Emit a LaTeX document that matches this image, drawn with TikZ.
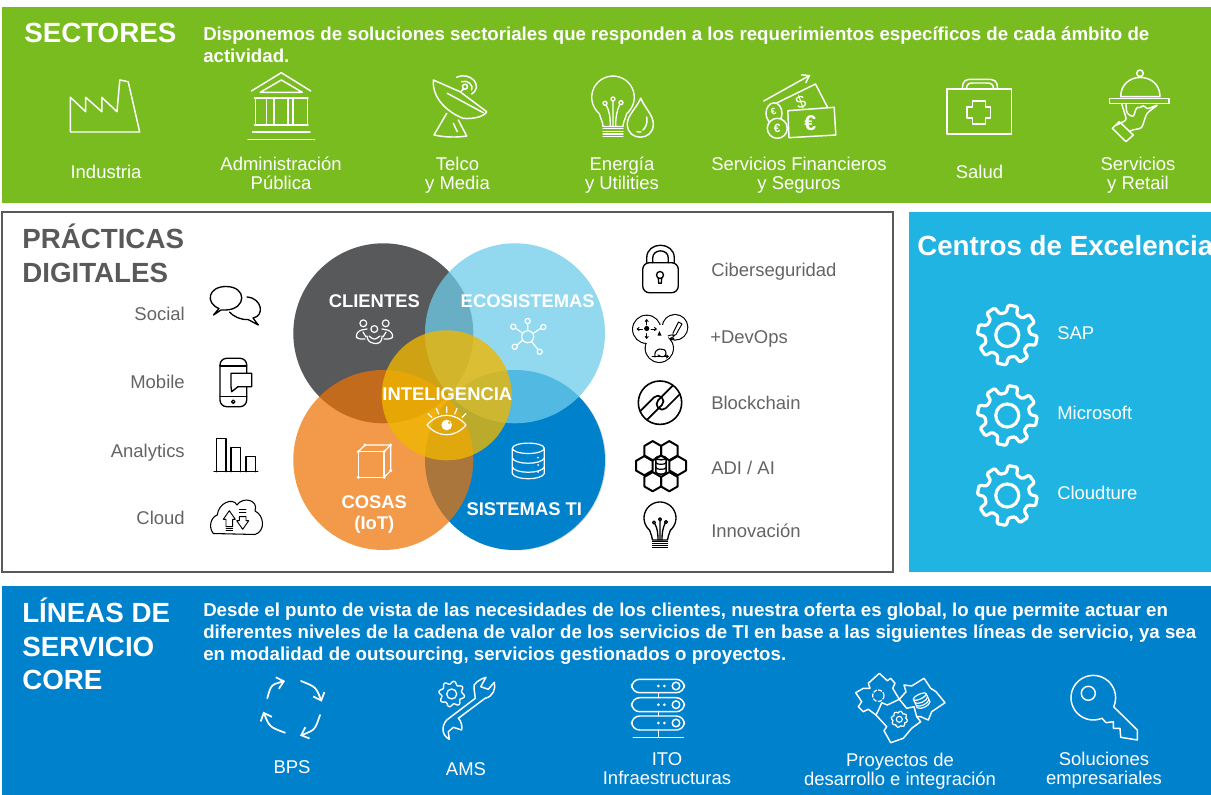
\documentclass[tikz,border=0pt]{standalone}
\usepackage{fontspec}
\setmainfont{Liberation Sans}
\usetikzlibrary{arrows.meta}
\definecolor{verde}{HTML}{78BC1F}
\definecolor{azul}{HTML}{0081CC}
\definecolor{celeste}{HTML}{20B4E3}
\definecolor{gris}{HTML}{58595B}
\definecolor{grisclaro}{HTML}{636466}
\definecolor{naranja}{HTML}{ED7204}
\definecolor{luz}{HTML}{6ECCEB}
\definecolor{oro}{HTML}{F0B700}
\newcommand\cogicon[6]{%
  \begin{scope}[shift={(#1,#2)}]
    \draw[line width=#6,rounded corners=1pt,line join=round] (-3:#4)
      \foreach \a in {0,45,...,315}{ -- (\a+11-14:#4) -- (\a+11-9:#3) -- (\a+11+9:#3) -- (\a+11+14:#4)} -- cycle;
    \draw[line width=#6] (0,0) circle[radius=#5];
  \end{scope}}
\newcommand\bulbicon[3]{%
  \begin{scope}[shift={(#1,#2)},scale=#3]
    \draw plot[smooth,domain=130:410,samples=30] ({16*cos(\x)},{16*sin(\x)}) .. controls (9,17) and (7.5,19) .. (7.5,22) -- (-7.5,22) .. controls (-7.5,19) and (-9,17) .. (-10.3,12.3);
    \foreach \yy in {23.5,25.5,27.5,29.5} \draw (-7.5,\yy) -- (7.5,\yy);
    \draw (-2,22) .. controls (-2,14) and (-3,10) .. (-5,6) (0,22) -- (0,3) (2,22) .. controls (2,14) and (3,10) .. (5,5.5);
    \draw (-6,4.5) circle[radius=1.5] (0,1.3) circle[radius=1.5] (6,4) circle[radius=1.5];
  \end{scope}}
\tikzset{
  lab/.style={inner sep=0pt,text=white,align=center,font=\fontsize{13.85}{14.25}\selectfont,text height=9.9pt,text depth=0pt},
  lablow/.style={inner sep=0pt,text=grisclaro,font=\fontsize{13.85}{14.25}\selectfont,text height=9.9pt,text depth=0pt},
  head/.style={inner sep=0pt,anchor=west,align=left,font=\fontsize{20.8}{25}\bfseries\selectfont,text height=14.9pt,text depth=0pt},
  body/.style={inner sep=0pt,anchor=west,align=left,text=white,font=\fontsize{14}{16.7}\bfseries\selectfont,text height=10pt,text depth=0pt},
  circlab/.style={inner sep=0pt,text=white,align=center,font=\fontsize{13.8}{16}\bfseries\selectfont,text height=9.9pt,text depth=0pt},
  wline/.style={draw=white,line width=1.1pt,line join=round,line cap=round},
  dline/.style={draw=black,line width=1pt,line join=round,line cap=round},
}
\begin{document}
\begin{tikzpicture}[x=0.75pt,y=-0.75pt]
\useasboundingbox (0,0) rectangle (1211,795);
% panels
\fill[verde] (2,7) rectangle (1211,203);
\draw[gris,line width=1.4pt] (2,212) rectangle (893,572);
\fill[celeste] (909,212) rectangle (1211,572);
\fill[azul] (2,586) rectangle (1211,795);
% top text
\node[head,text=white] (sectores) at (24,33) {SECTORES};
\node[body] (sectxt) at (203,56) {Disponemos de soluciones sectoriales que responden a los requerimientos específicos de cada ámbito de\\actividad.};
\node[lab] (s1) at (106,172) {Industria};
\node[lab] (s2) at (281,183) {Administración\\Pública};
\node[lab] (s3) at (457.5,183) {Telco\\y Media};
\node[lab] (s4) at (622,183) {Energía\\y Utilities};
\node[lab] (s5) at (799,183) {Servicios Financieros\\y Seguros};
\node[lab] (s6) at (979.5,172) {Salud};
\node[lab] (s7) at (1138,183) {Servicios\\y Retail};
% sector icons
\begin{scope}[wline]
  % factory
  \draw (70.4,97.3) -- (85.7,111.7) -- (85.7,97.3) -- (101.8,111.7) -- (101.8,97.3) -- (117,111.7) -- (119.8,80) -- (128.2,81.7) -- (139.7,132) -- (70.4,132) -- cycle;
  % government
  \draw (251.4,91) -- (281.3,72.7) -- (310.8,91);
  \draw (260.2,92.3) -- (281.3,80) -- (302.3,92.3) -- cycle;
  \draw (254.5,98) -- (308,98) (254.5,125) -- (308,125);
  \draw (255.6,98) rectangle (266.4,125) (274,98) rectangle (287.8,125) (293.1,98) rectangle (307.3,125);
  \draw (252.6,132) -- (310,132) (248,139.3) -- (314.6,139.3);
  % dish
  \draw (433.3,80) -- (460,91.7) -- (486.7,111.7) .. controls (485,116) and (474,119.5) .. (463,118.3) .. controls (450,113.3) and (432,100) .. (433.3,80) -- cycle;
  \draw (447.3,93.3) -- (483.3,112.7);
  \draw (446.7,113.3) -- (434,135) .. controls (445,137.5) and (458,137.5) .. (466.7,136) -- (458.3,120);
  \draw (453.3,123.3) -- (457.3,131.7);
  \draw (460.7,91.7) -- (463.5,89);
  \draw (465,86.7) circle[radius=2.5];
  \draw (461.7,81.7) .. controls (467,79.5) and (474,85) .. (471.7,90);
  \draw (456.7,77.3) .. controls (470,71) and (484,86) .. (471.7,94);
  % energy
  \begin{scope}[line width=1pt]
    \bulbicon{613}{97.3}{1.33}
  \end{scope}
  \draw[fill=verde] (640.7,98.3) .. controls (636,109) and (627.3,115) .. (627.3,124.3) .. controls (627.3,141.5) and (653.3,141.5) .. (653.3,124.3) .. controls (653.3,115) and (645.5,109) .. (640.7,98.3) -- cycle;
  \draw (646.7,117) .. controls (648,124) and (645,128) .. (643,130);
  \draw (637,131.7) -- (641,132);
  % finance
  \draw[-{Straight Barb[length=5pt,width=7pt]}] (763.7,101) -- (810.4,75);
  \draw (776,103.3) -- (815.5,84) -- (827.2,106.7);
  \draw (776,103.3) -- (770,110);
  \draw[fill=verde] (787.8,110.7) -- (834.2,107.3) -- (835.8,135) -- (789,137.7) -- cycle;
  \draw[fill=verde] (774,113.3) ellipse[x radius=8,y radius=10.5];
  \draw[fill=verde] (777.3,128.3) circle[radius=10];
  % case
  \draw (946.8,89) rectangle (1011.5,134);
  \draw (962.4,89) .. controls (962.4,80) and (966,79.3) .. (972,79.3) -- (987,79.3) .. controls (994,79.3) and (997.5,80) .. (997.5,89);
  \draw (966.5,89) .. controls (966.5,84) and (969,83) .. (973,83) -- (986,83) .. controls (991,83) and (993.5,84) .. (993.5,89);
  \draw (972.3,100.8) -- (985.3,100.8) -- (985.3,106.8) -- (990.7,106.8) -- (990.7,117.8) -- (985.3,117.8) -- (985.3,123.8) -- (972.3,123.8) -- (972.3,117.8) -- (967,117.8) -- (967,106.8) -- (972.3,106.8) -- cycle;
  % retail
  \draw (1120.7,96.7) .. controls (1120.7,71) and (1160,71) .. (1160,96.7) -- cycle;
  \draw (1140,73.3) circle[radius=3.3];
  \draw (1109.3,98.3) rectangle (1169,103.3);
  \draw (1112.3,128.3) -- (1119.3,121.7) -- (1133.3,135) -- (1126,141.7) -- cycle;
  \draw[rounded corners=2pt] (1116.7,125) -- (1126.7,120) -- (1121.7,104) (1126,104) -- (1126.7,113.3) -- (1133.3,117.3) -- (1136.7,106.7) -- (1140.7,108.3) -- (1143.3,104.5) -- (1146.7,109.3) -- (1158.3,104.5) -- (1146.7,113.3) -- (1141.7,128.3) -- (1131.7,130) -- (1129.3,131.7);
\end{scope}
\node[text=white,inner sep=0pt,font=\fontsize{16}{16}\bfseries\selectfont] (euro1) at (810.4,123.5) {€};
\node[text=white,inner sep=0pt,rotate=20,font=\fontsize{13}{13}\selectfont] (dolar) at (801,102.7) {\$};
\node[text=white,inner sep=0pt,font=\fontsize{9}{9}\bfseries\selectfont] (euro2) at (777.3,128.5) {€};
\node[text=white,inner sep=0pt,rotate=20,font=\fontsize{7}{7}\bfseries\selectfont] (euro3) at (773.5,112) {€};
% central panel
\node[head,text=gris] (pd1) at (22,239) {PRÁCTICAS};
\node[head,text=gris] (pd2) at (22,273) {DIGITALES};
\node[lablow,anchor=east] (p1) at (185,313.5) {Social};
\node[lablow,anchor=east] (p2) at (185,381.5) {Mobile};
\node[lablow,anchor=east] (p3) at (185,451) {Analytics};
\node[lablow,anchor=east] (p4) at (185,517.5) {Cloud};
\node[lablow,anchor=west] (q1) at (711,269.5) {Ciberseguridad};
\node[lablow,anchor=west] (q2) at (710,337) {+DevOps};
\node[lablow,anchor=west] (q3) at (711,402.5) {Blockchain};
\node[lablow,anchor=west] (q4) at (711,468) {ADI / AI};
\node[lablow,anchor=west] (q5) at (711,530.5) {Innovación};
% venn
\fill[gray!30] (516,460.5) circle[radius=90];
\fill[azul] (515,460) circle[radius=90];
\fill[gris] (383.3,333.3) circle[radius=90];
\fill[luz,opacity=.75] (515,333.3) circle[radius=90];
\fill[naranja,opacity=.72] (383.3,460) circle[radius=90];
\fill[oro,opacity=.78] (446.7,395.3) circle[radius=65];
\node[circlab] (c1) at (374.3,301) {CLIENTES};
\node[circlab] (c2) at (527.7,301) {ECOSISTEMAS};
\node[circlab] (c3) at (447.3,394) {INTELIGENCIA};
\node[circlab] (c4) at (374.3,523) {COSAS\\(IoT)};
\node[circlab] (c5) at (524.3,509.3) {SISTEMAS TI};
\begin{scope}[draw=white,line width=.9pt,line join=round,line cap=round]
  % people
  \draw[white] (363.3,323.3) circle[radius=3.4] (385.7,323.3) circle[radius=3.4] (374.3,329) circle[radius=3.4];
  \draw[white,rounded corners=2pt] (367,329) -- (359,330.5) -- (355.5,336) -- (358,339) -- (365,339) (363,332) -- (366,337);
  \draw[white,rounded corners=2pt] (382,329) -- (390,330.5) -- (393.5,336) -- (391,339) -- (384,339) (386,332) -- (383,337);
  \draw[white,rounded corners=2pt] (367,336) -- (368,341) -- (373,343.5) -- (379,343.5) -- (382,340) -- (382,336) (369,336) -- (374.3,340) -- (380,336);
  % network
  \draw[white] (527.7,336.7) circle[radius=6];
  \draw[white] (513.3,326.7) circle[radius=2.6] (527.7,321) circle[radius=2.6] (543.3,327) circle[radius=2.6] (539.7,351.7) circle[radius=2.6] (514.7,346.7) circle[radius=2.6];
  \draw[white] (515.5,328.2) -- (522.7,333.2) (527.7,323.6) -- (527.7,330.7) (541,328.2) -- (533,333.5) (538,349.7) -- (531.5,341.3) (517,345.2) -- (522.5,340.2);
  % eye
  \draw[white] (427,425) .. controls (438,412) and (455,412) .. (466,425) .. controls (455,438) and (438,438) .. (427,425) -- cycle;
  \fill[white] (446.7,425) circle[radius=5.3];
  \fill[oro] (449.2,422.7) circle[radius=1.4];
  \draw[white] (428,413.5) -- (432,417.5) (436.3,408.5) -- (438.7,414) (446.7,407) -- (446.7,412.5) (457,408.5) -- (454.7,414) (466,413.5) -- (462,417.5);
  % cube
  \draw[white] (358.3,451.7) rectangle (384,477.3);
  \draw[white] (358.3,451.7) -- (365,445) -- (390.7,445) -- (384,451.7) (390.7,445) -- (390.7,470.7) -- (384,477.3);
  \foreach \p in {(358.3,477.3),(384,477.3),(384,451.7),(365,445),(390.7,445),(390.7,470.7),(358.3,451.7)} \fill[white] \p circle[radius=1.7];
  % database
  \draw[white] (528.3,448.3) ellipse[x radius=16,y radius=5.2];
  \draw[white] (512.3,448.3) -- (512.3,473.5) .. controls (515,480.5) and (541.5,480.5) .. (544.3,473.5) -- (544.3,448.3);
  \draw[white] (512.3,458) .. controls (515,465) and (541.5,465) .. (544.3,458);
  \draw[white] (512.3,467) .. controls (515,474) and (541.5,474) .. (544.3,467);
  \foreach \yy in {457.7,465,472} \fill[white] (538,\yy) circle[radius=1];
\end{scope}
% left icons
\begin{scope}[dline]
  \draw (213.5,315) -- (219,308.5) .. controls (205,303) and (208,286.5) .. (226,286.5) .. controls (247,286.5) and (247,309) .. (226,310) .. controls (224,310) and (222,310) .. (221,310) -- cycle;
  \draw (247,297) .. controls (262,298) and (265,316) .. (253,318) -- (258.3,325) -- (248,319.5) .. controls (240,320) and (233,316) .. (229.5,312);
  \draw[rounded corners=5pt] (246.7,373.3) -- (246.7,358.3) -- (220,358.3) -- (220,406.7) -- (246.7,406.7) -- (246.7,386.7);
  \draw (220,366) -- (246.7,366) (220,396.7) -- (246.7,396.7);
  \draw[fill=white] (231,373.3) -- (251.7,373.3) -- (251.7,386.7) -- (238,386.7) -- (231.7,391.7) -- (231,386.7) -- cycle;
  \draw (233.3,401.7) circle[radius=1.7];
  \draw (214,471.7) -- (257.7,471.7);
  \draw (216.7,471.7) -- (216.7,438.3) -- (226,438.3) -- (226,471.7);
  \draw (231,471.7) -- (231,447.3) -- (240.7,447.3) -- (240.7,471.7);
  \draw (246,471.7) -- (246,456.7) -- (255.7,456.7) -- (255.7,471.7);
  \draw[line width=.8pt] (213.3,533.5) .. controls (208,527) and (211,517) .. (217.3,515) .. controls (218.3,503) and (233,497) .. (237,505) .. controls (243,496) and (259,500) .. (255,511) .. controls (264,515) and (266,531) .. (255,534.5) -- cycle;
  \draw[line width=.7pt] (229.3,510.7) -- (223.3,519.3) -- (226,519.3) -- (226,526.7) -- (232.7,526.7) -- (232.7,519.3) -- (235.3,519.3) -- cycle;
  \draw[line width=.6pt] (226,528.5) -- (232.7,528.5) (226,530.5) -- (232.7,530.5);
  \draw[line width=.7pt] (242.7,529.3) -- (236.7,520.7) -- (239.3,520.7) -- (239.3,516.7) -- (246,516.7) -- (246,520.7) -- (248.7,520.7) -- cycle;
  \draw[line width=.6pt] (239.3,509.5) -- (246,509.5) (239.3,512.7) -- (246,512.7);
\end{scope}
% right icons
\begin{scope}[dline]
  \draw[rounded corners=5pt] (642.7,262.7) rectangle (678.3,292.7);
  \draw (646.7,262.7) -- (646.7,258) .. controls (646.7,241) and (674.3,241) .. (674.3,258) -- (674.3,262.7);
  \draw (652.7,262.7) -- (652.7,258) .. controls (652.7,248.5) and (668.3,248.5) .. (668.3,258) -- (668.3,262.7);
  \draw (660,275) circle[radius=3.5];
  \draw (658.3,278) -- (658.7,283.3) -- (661.3,283.3) -- (661.7,278);
  % devops
  \draw (646.7,329.3) circle[radius=14] (675,327.3) circle[radius=12.7] (659.3,348.3) circle[radius=14];
  \fill[white] (646.7,329.3) circle[radius=13.5] (675,327.3) circle[radius=12.2] (659.3,348.3) circle[radius=13.5];
  \fill[white] (655,325) rectangle (668,345);
  \draw[line width=.7pt,-{Straight Barb[length=1.5pt,width=2.5pt]}] (646.7,325) -- (646.7,319);
  \draw[line width=.7pt,-{Straight Barb[length=1.5pt,width=2.5pt]}] (646.7,333.5) -- (646.7,339);
  \draw[line width=.7pt,-{Straight Barb[length=1.5pt,width=2.5pt]}] (642.5,329) -- (636.5,329);
  \draw[line width=.7pt,-{Straight Barb[length=1.5pt,width=2.5pt]}] (651,329) -- (657,329);
  \fill[black] (646.7,328.5) circle[radius=2.6];
  \fill[black] (659.3,331) -- (661.5,335.5) -- (657.5,335.5) -- cycle;
  \draw[line width=.7pt] (673,333) -- (678.5,322) -- (682,324) -- (676,334.5) -- (673,336) -- cycle;
  \draw[line width=.7pt] (668,336) .. controls (675,333) and (676,337) .. (671,338) .. controls (668,339) and (672,340) .. (674,338.5);
  \draw[line width=.8pt] (655,357) .. controls (653,347) and (666,347) .. (666,353) .. controls (666,357) and (662,358) .. (658,355);
  \draw[line width=.7pt,-{Straight Barb[length=1.5pt,width=2.5pt]}] (652,356.5) -- (669,356.5);
  % chain
  \draw[line width=1.2pt] (660,402.7) circle[radius=21.7];
  \begin{scope}[shift={(660,402.7)},rotate=45]
    \clip (0,0) circle[radius=21.7];
    \draw[line width=1.3pt,rounded corners=4pt] (-30,-8) rectangle (5,3);
    \draw[line width=1.3pt,rounded corners=4pt] (-5,-3) rectangle (30,8);
  \end{scope}
  % hexes
  \foreach \hx/\hy in {652.7/450.7,669.3/450.7,644.3/465.7,677.7/465.7,652.7/481.7,669.3/481.7}{
    \draw[line width=1.5pt] (\hx,\hy-9.6) -- (\hx+8.3,\hy-4.8) -- (\hx+8.3,\hy+4.8) -- (\hx,\hy+9.6) -- (\hx-8.3,\hy+4.8) -- (\hx-8.3,\hy-4.8) -- cycle;
  }
  \draw[line width=1.1pt] (661,458) ellipse[x radius=5.2,y radius=1.8];
  \draw[line width=1.1pt] (655.8,458) -- (655.8,472) .. controls (657,475) and (665,475) .. (666.2,472) -- (666.2,458);
  \draw[line width=.9pt] (655.8,462.5) .. controls (657,465) and (665,465) .. (666.2,462.5);
  \draw[line width=.9pt] (655.8,467.5) .. controls (657,470) and (665,470) .. (666.2,467.5);
  \bulbicon{660}{518}{1}
\end{scope}
% centros
\node[head,text=white] (ce) at (917,246) {Centros de Excelencia};
\begin{scope}[draw=white]
  \cogicon{1007.3}{335}{30}{22.5}{11.5}{2.4pt}
  \cogicon{1007.3}{415.5}{30}{22.5}{11.5}{2.4pt}
  \cogicon{1007.3}{495.5}{30}{22.5}{11.5}{2.4pt}
\end{scope}
\node[lab,anchor=west] (ce1) at (1057,333) {SAP};
\node[lab,anchor=west] (ce2) at (1057,413) {Microsoft};
\node[lab,anchor=west] (ce3) at (1057,493) {Cloudture};
% lineas
\node[head,text=white] (li1) at (22,613) {LÍNEAS DE};
\node[head,text=white] (li2) at (22,647) {SERVICIO};
\node[head,text=white] (li3) at (22,680) {CORE};
\node[body] (litxt) at (203,654) {Desde el punto de vista de las necesidades de los clientes, nuestra oferta es global, lo que permite actuar en\\diferentes niveles de la cadena de valor de los servicios de TI en base a las siguientes líneas de servicio, ya sea\\en modalidad de outsourcing, servicios gestionados o proyectos.};
\node[lab] (l1) at (292,767) {BPS};
\node[lab] (l2) at (466,769) {AMS};
\node[lab] (l3) at (667,778) {ITO\\Infraestructuras};
\node[lab] (l4) at (900,779) {Proyectos de\\desarrollo e integración};
\node[lab] (l5) at (1104,778) {Soluciones\\empresariales};
\begin{scope}[wline]
  % BPS
  \begin{scope}[line width=1.3pt,-{Straight Barb[length=5pt,width=9pt]}]
    \draw (267.3,698.3) .. controls (271,684.7) .. (285,681);
    \draw (301,681) .. controls (316,687) .. (321.7,701.7);
    \draw (320,715) .. controls (315,730) .. (300,735.7);
    \draw (285,732.7) .. controls (269.5,727) .. (263.3,711.7);
  \end{scope}
  % AMS
  \draw (486,677.3) .. controls (480,679) and (472,684) .. (474,688.3) -- (475.3,698.3) -- (446.7,720) .. controls (441,726.7) and (441.7,735) .. (449.3,739.3) -- (448.3,731.7) -- (453.3,727.3) -- (461.7,730) .. controls (462.7,721.7) and (458.3,718.3) .. (458.3,718.3) -- (485,698.3) .. controls (493.3,696.7) and (496,688.3) .. (494.3,682.3) -- (488.3,689.3) -- (480.7,686.7) -- cycle;
  % ITO
  \draw[rounded corners=6pt] (631.7,679.3) rectangle (684.3,692.7) (631.7,697.7) rectangle (684.3,711.7) (631.7,716) rectangle (684.3,730);
  \draw (658.3,692.7) -- (658.3,697.7) (658.3,711.7) -- (658.3,716) (658.3,730) -- (658.3,737.3) (633.3,737.3) -- (683.3,737.3);
  \foreach \yy in {686,704.7,723}{
    \fill[white] (658.3,\yy) circle[radius=1.5] (664.3,\yy) circle[radius=1.5];
    \draw (676,\yy) circle[radius=3.8];
  }
  % puzzle
  \draw (879.3,673.3) -- (887.3,680.7) -- (890.7,678.3) -- (895,683.3) -- (892.7,688.3) -- (899.3,699.3) -- (887.3,705) -- (881.7,702.7) -- (879.3,708.3) -- (876,715) -- (868.3,709.3) -- (863.3,711.7) -- (858.3,706.7) -- (861.7,701.7) -- (855.7,692.7) -- (863.3,688.3) -- (870,688.3) -- (868.3,683.3) -- cycle;
  \draw (899.3,699.3) -- (906,691.7) -- (904,685) -- (911.7,686) -- (924,678.3) -- (930.7,688.3) -- (936,691.7) -- (945,702.7) -- (931.7,711.7) -- (928.3,720) -- (920.7,716.7) -- (916.7,716.7) -- (914,706.7) -- (906.7,708.3) -- cycle;
  \draw (876,715) -- (886.7,726.7) -- (884,730.7) -- (890.7,742.7) -- (903.3,738.3) -- (911.7,728.3) -- (920.7,721.7) -- (916.7,716.7);
\end{scope}
\begin{scope}[draw=white]
  \begin{scope}[line width=.9pt]
    \draw[dash pattern=on 3pt off 1pt] (878.3,695.7) circle[radius=5.7];
    \cogicon{899.3}{719.3}{8.5}{6.5}{3}{.8pt}
  \end{scope}
  \begin{scope}[shift={(921.7,700.7)},rotate=25,line width=.9pt]
    \draw (0,-4.5) ellipse[x radius=7,y radius=2.4];
    \draw (-7,-4.5) -- (-7,4.5) .. controls (-5,8) and (5,8) .. (7,4.5) -- (7,-4.5);
    \draw (-7,-1) .. controls (-5,2.5) and (5,2.5) .. (7,-1);
    \draw (-7,2) .. controls (-5,5.5) and (5,5.5) .. (7,2);
  \end{scope}
\end{scope}
\begin{scope}[wline]
  % key
  \draw plot[smooth,domain=24:-293,samples=40] ({1093.3+22.3*cos(\x)},{697.7+22.3*sin(\x)}) -- (1106,722.7) -- (1113.3,721.7) -- (1113.3,728.3) -- (1120,728.3) -- (1120.7,737.3) -- (1137.3,740) -- (1137.3,730) -- cycle;
  \draw (1088.3,693.3) circle[radius=7];
\end{scope}
\begin{scope}[draw=white]
  \cogicon{451.7}{694}{13}{10}{5}{1pt}
\end{scope}
\end{tikzpicture}
\end{document}
